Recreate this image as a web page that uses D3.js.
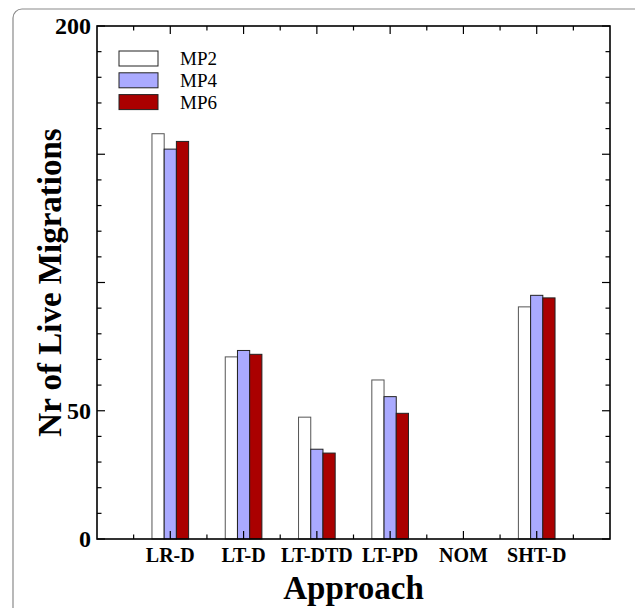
<!DOCTYPE html>
<html>
<head>
<meta charset="utf-8">
<script src="https://cdn.jsdelivr.net/npm/d3@7"></script>
<style>
  html, body { margin: 0; padding: 0; background: #fff; }
  svg { display: block; font-family: "Liberation Serif", "Times New Roman", serif; }
</style>
</head>
<body>
<svg id="chart" width="635" height="608"></svg>
<script>
// Number of live migrations per approach, for three migration policies
const categories = ["LR-D", "LT-D", "LT-DTD", "LT-PD", "NOM", "SHT-D"];
const seriesNames = ["MP2", "MP4", "MP6"];
const seriesColors = ["#ffffff", "#aaaaff", "#aa0000"];
const mp2 = [158, 71, 47.5, 62, 0, 90.5];
const mp4 = [152, 73.5, 35, 55.5, 0, 95];
const mp6 = [155, 72, 33.5, 49, 0, 94];
const yTickLabels = [0, 50, 200];

const seriesValues = [mp2, mp4, mp6];

const svg = d3.select("#chart");
const plot = { left: 97, right: 610, top: 26, bottom: 539 };

// outer figure border
svg.append("rect")
  .attr("x", 13).attr("y", 9).attr("width", 640).attr("height", 640)
  .attr("rx", 9).attr("ry", 9)
  .attr("fill", "none").attr("stroke", "#8a8a8a").attr("stroke-width", 1.2);

// category positions: 1..6 on a continuous axis from 0 to 7
const x = d3.scaleLinear().domain([0, categories.length + 1]).range([plot.left, plot.right]);
const y = d3.scaleLinear().domain([0, 200]).range([plot.bottom, plot.top]);

const groupWidth = 0.5; // in category units
const barW = (x(groupWidth) - x(0)) / seriesNames.length;

// bars
seriesValues.forEach((vals, s) => {
  svg.append("g").selectAll("rect")
    .data(vals.map((v, i) => ({ v, i })).filter(d => d.v > 0))
    .join("rect")
      .attr("x", d => x(d.i + 1 - groupWidth / 2) + s * barW)
      .attr("y", d => y(d.v))
      .attr("width", barW)
      .attr("height", d => y(0) - y(d.v))
      .attr("fill", seriesColors[s])
      .attr("stroke", s === 0 ? "#555" : "#222")
      .attr("stroke-width", 1);
});

// ticks (all pointing inward)
const major = 8, minor = 4.5;
const tickG = svg.append("g").attr("stroke", "#000").attr("stroke-width", 1.2);
const yMinor = d3.range(0, 201, 10);
yMinor.forEach(v => {
  const len = v % 50 === 0 ? major : minor;
  tickG.append("line").attr("x1", plot.left).attr("x2", plot.left + len).attr("y1", y(v)).attr("y2", y(v));
  tickG.append("line").attr("x1", plot.right).attr("x2", plot.right - len).attr("y1", y(v)).attr("y2", y(v));
});
const xTicks = d3.range(0.5, categories.length + 1, 0.5);
xTicks.forEach(t => {
  const len = Number.isInteger(t) ? major : minor;
  tickG.append("line").attr("x1", x(t)).attr("x2", x(t)).attr("y1", plot.bottom).attr("y2", plot.bottom - len);
  tickG.append("line").attr("x1", x(t)).attr("x2", x(t)).attr("y1", plot.top).attr("y2", plot.top + len);
});

// frame
svg.append("rect")
  .attr("x", plot.left).attr("y", plot.top)
  .attr("width", plot.right - plot.left).attr("height", plot.bottom - plot.top)
  .attr("fill", "none").attr("stroke", "#000").attr("stroke-width", 1.6);

// y tick labels
svg.append("g").selectAll("text")
  .data(yTickLabels)
  .join("text")
    .attr("x", plot.left - 6)
    .attr("y", d => y(d))
    .attr("dy", "0.35em")
    .attr("text-anchor", "end")
    .attr("font-size", 24)
    .attr("font-weight", "bold")
    .text(d => d);

// x tick labels
svg.append("g").selectAll("text")
  .data(categories)
  .join("text")
    .attr("x", (d, i) => x(i + 1))
    .attr("y", 562)
    .attr("text-anchor", "middle")
    .attr("font-size", 20)
    .attr("font-weight", "bold")
    .text(d => d);

// axis titles
svg.append("text")
  .attr("x", (plot.left + plot.right) / 2)
  .attr("y", 599)
  .attr("text-anchor", "middle")
  .attr("font-size", 33)
  .attr("font-weight", "bold")
  .text("Approach");

svg.append("text")
  .attr("transform", `translate(61,${(plot.top + plot.bottom) / 2}) rotate(-90)`)
  .attr("text-anchor", "middle")
  .attr("font-size", 33)
  .attr("font-weight", "bold")
  .text("Nr of Live Migrations");

// legend
const legend = svg.append("g");
seriesNames.forEach((name, s) => {
  const top = 51 + s * 21.8;
  legend.append("rect")
    .attr("x", 119).attr("y", top).attr("width", 39).attr("height", 15)
    .attr("fill", seriesColors[s]).attr("stroke", "#222").attr("stroke-width", 1);
  legend.append("text")
    .attr("x", 180).attr("y", top + 14)
    .attr("font-size", 19)
    .text(name);
});
</script>
</body>
</html>
